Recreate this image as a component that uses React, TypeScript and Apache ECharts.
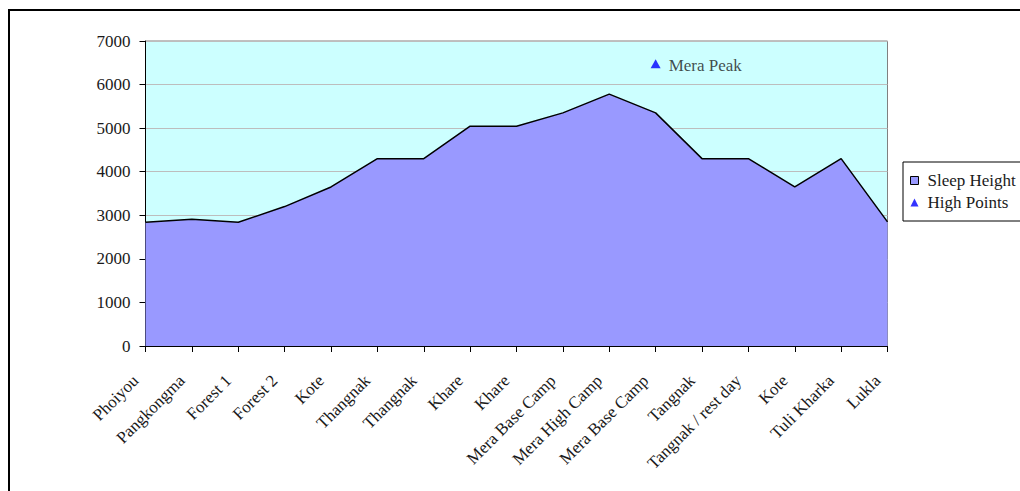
import React, { useEffect, useRef } from "react";
import * as echarts from "echarts";

const categories = [
  "Phoiyou", "Pangkongma", "Forest 1", "Forest 2", "Kote", "Thangnak", "Thangnak",
  "Khare", "Khare", "Mera Base Camp", "Mera High Camp", "Mera Base Camp", "Tangnak",
  "Tangnak / rest day", "Kote", "Tuli Kharka", "Lukla",
];
const sleepHeight = [2840, 2910, 2840, 3200, 3650, 4300, 4300, 5045, 5045, 5350, 5780, 5350, 4300, 4300, 3650, 4300, 2850];
const highPoints: (number | null)[] = [null, null, null, null, null, null, null, null, null, null, null, 6476, null, null, null, null, null];
const highPointNames = ["", "", "", "", "", "", "", "", "", "", "", "Mera Peak", "", "", "", "", ""];
const yTicks = { min: 0, max: 7000, interval: 1000 };

const FONT = "'Liberation Serif', 'DejaVu Serif', serif";
const TEXT = "#1a1a1a";

export default function App() {
  const ref = useRef<HTMLDivElement>(null);
  useEffect(() => {
    if (!ref.current) return;
    const chart = echarts.init(ref.current, null, { renderer: "svg" });
    chart.setOption({
      animation: false,
      textStyle: { fontFamily: FONT },
      graphic: [
        {
          type: "rect",
          shape: { x: 9, y: 10, width: 1100, height: 600 },
          style: { fill: "none", stroke: "#000", lineWidth: 2 },
          z: 100,
        },
      ],
      grid: {
        left: 145.5,
        top: 41,
        width: 742,
        height: 305,
        show: true,
        backgroundColor: "#CCFFFF",
        borderColor: "#808080",
        borderWidth: 1,
      },
      legend: {
        orient: "vertical",
        left: 903,
        top: 162,
        padding: [10, 200, 10, 7],
        itemGap: 5,
        itemWidth: 8,
        itemHeight: 8,
        borderColor: "#000",
        borderWidth: 1,
        backgroundColor: "#fff",
        textStyle: { fontFamily: FONT, fontSize: 17, color: TEXT, padding: [0, 0, 0, 4] },
        data: [
          { name: "Sleep Height", icon: "rect", itemStyle: { color: "#9999FF", borderColor: "#000", borderWidth: 1 } },
          { name: "High Points", icon: "triangle", itemStyle: { color: "#0000FF" } },
        ],
      },
      xAxis: {
        type: "category",
        data: categories,
        boundaryGap: false,
        axisLine: { lineStyle: { color: "#000", width: 1 } },
        axisTick: { show: true, length: 6, lineStyle: { color: "#000" }, interval: 0 },
        axisLabel: {
          interval: 0,
          rotate: 45,
          margin: 22,
          padding: [0, 14, 0, 0],
          fontFamily: FONT,
          fontSize: 17,
          color: TEXT,
        },
        splitLine: { show: false },
      },
      yAxis: {
        type: "value",
        min: yTicks.min,
        max: yTicks.max,
        interval: yTicks.interval,
        axisLine: { show: true, lineStyle: { color: "#000", width: 1 } },
        axisTick: { show: true, length: 6, lineStyle: { color: "#000" } },
        axisLabel: {
          margin: 15,
          fontFamily: FONT,
          fontSize: 17,
          color: TEXT,
          formatter: (v: number) => String(v),
        },
        splitLine: { show: true, lineStyle: { color: "#BDBDBD", width: 1 } },
      },
      series: [
        {
          name: "Sleep Height",
          type: "line",
          data: sleepHeight,
          showSymbol: false,
          symbol: "none",
          lineStyle: { color: "#000", width: 1.5 },
          itemStyle: { color: "#9999FF" },
          areaStyle: { color: "#9999FF", opacity: 1 },
          z: 2,
        },
        {
          name: "High Points",
          type: "scatter",
          data: highPoints.map((v, i) => (v == null ? "-" : { value: v, name: highPointNames[i] })),
          symbol: "triangle",
          symbolSize: [10, 9],
          itemStyle: { color: "#0000FF" },
          label: {
            show: true,
            position: "right",
            distance: 8,
            offset: [0, 2],
            formatter: (p: any) => p.name || highPointNames[p.dataIndex],
            fontFamily: FONT,
            fontSize: 17,
            color: TEXT,
          },
          z: 5,
        },
      ],
    });
    return () => chart.dispose();
  }, []);
  return (
    <div
      ref={ref}
      style={{ position: "fixed", left: 0, top: 0, width: 1020, height: 491, background: "#fff" }}
    />
  );
}
